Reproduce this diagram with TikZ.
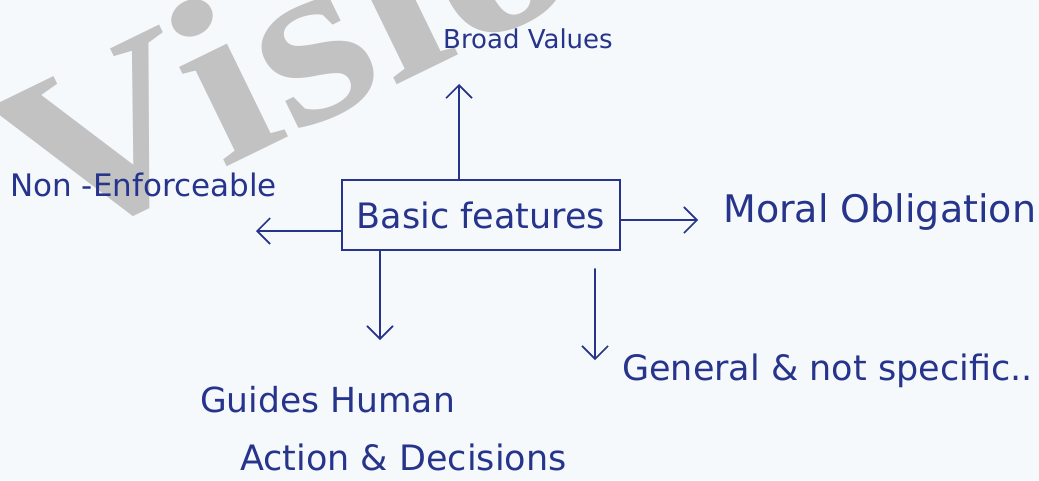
\documentclass[tikz,border=0pt]{standalone}
\usepackage{fontspec}
\setmainfont{DejaVu Sans}
\newfontfamily\wmfont{Liberation Serif}
\usetikzlibrary{arrows.meta}
\definecolor{ink}{RGB}{38,52,140}
\definecolor{paper}{RGB}{246,249,252}
\definecolor{wmgray}{RGB}{194,194,194}
\tikzset{
  hand/.style={anchor=base west, inner sep=0pt, text=ink},
  arr/.style={draw=ink, line width=1.6pt, line cap=round,
              -{Straight Barb[length=13pt,width=26pt,line width=1.6pt]}},
  featbox/.style={draw=ink, line width=1.8pt, minimum width=278pt,
                  minimum height=70pt, inner sep=0pt, text=ink}
}
\newcommand{\fs}[1]{\fontsize{#1}{#1}\selectfont}
\begin{document}
\begin{tikzpicture}[x=1pt,y=-1pt]
  \useasboundingbox (0,0) rectangle (1039,480);
  \fill[paper] (0,0) rectangle (1039,480);
  \clip (0,0) rectangle (1039,480);

  % watermark
  \node[anchor=base west, inner sep=0pt, rotate=26, xscale=1.18, text=wmgray,
        font=\wmfont\bfseries\fs{240}] (wm) at (47,255) {Visio};

  % central box
  \node[featbox, font=\fs{35}] (box) at (481,215) {Basic features};

  % labels
  \node[hand, font=\fs{26}] (broad)   at (443,48)  {Broad Values};
  \node[hand, font=\fs{31}] (nonenf)  at (10,196)  {Non -Enforceable};
  \node[hand, font=\fs{38}] (moral)   at (723,222) {Moral Obligation};
  \node[hand, font=\fs{34.5}] (guides) at (200,412) {Guides Human};
  \node[hand, font=\fs{35}] (action)  at (240,470) {Action \& Decisions};
  \node[hand, font=\fs{35}] (general) at (622,380) {General \& not specific..};

  % arrow tips
  \coordinate (tipU)  at (459,84);
  \coordinate (tipL)  at (256,231);
  \coordinate (tipR)  at (698,220);
  \coordinate (tipD1) at (380,340);
  \coordinate (tipD2) at (595,360);

  % connectors
  \draw[arr] (box.north -| tipU) -- (tipU);
  \draw[arr] (box.west |- tipL) -- (tipL);
  \draw[arr] (box.east |- tipR) -- (tipR);
  \draw[arr] (box.south -| tipD1) -- (tipD1);
  \draw[arr, shorten <=18pt] (box.south -| tipD2) -- (tipD2);
\end{tikzpicture}
\end{document}
